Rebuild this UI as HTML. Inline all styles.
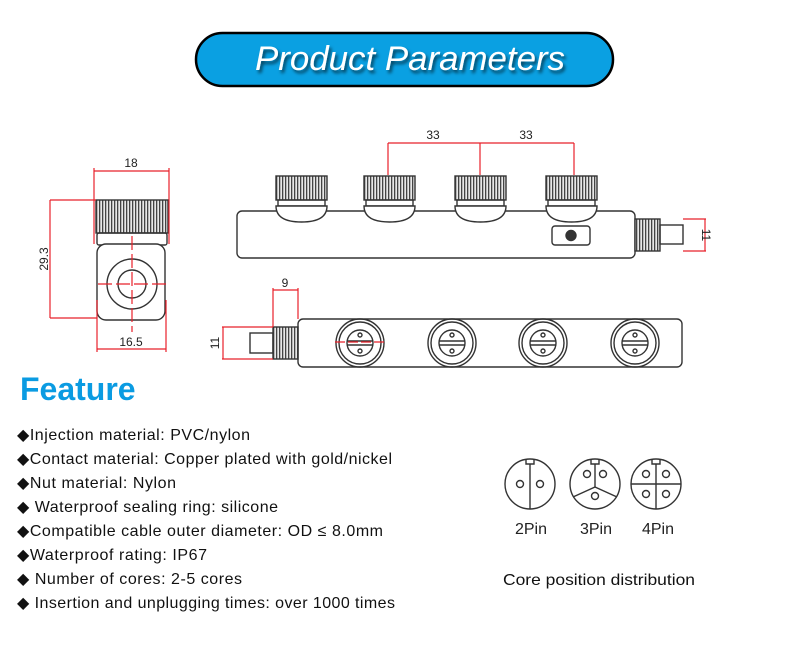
<!DOCTYPE html>
<html><head><meta charset="utf-8"><style>
html,body{margin:0;padding:0;background:#fff;}
svg{display:block;font-family:"Liberation Sans",Arial,sans-serif;}
</style></head><body>
<svg width="790" height="661" viewBox="0 0 790 661" xmlns="http://www.w3.org/2000/svg">
<defs>
<pattern id="kn" width="3" height="10" patternUnits="userSpaceOnUse">
<rect width="3" height="10" fill="#e8e8e8"/><rect width="1.3" height="10" fill="#444"/>
</pattern>
<filter id="sh" x="-5%" y="-20%" width="110%" height="150%"><feDropShadow dx="2" dy="3" stdDeviation="1.5" flood-color="#000" flood-opacity="0.6"/></filter>
</defs>
<rect width="790" height="661" fill="#fff"/>
<rect x="196" y="33" width="417" height="53" rx="26.5" fill="#0aa0e2" stroke="#000" stroke-width="2.5"/>
<text x="410" y="70" text-anchor="middle" font-size="34" font-style="italic" fill="#fff" filter="url(#sh)" textLength="310" lengthAdjust="spacingAndGlyphs">Product Parameters</text>

<g fill="none" stroke="#333" stroke-width="1.4">
<rect x="96" y="200" width="72" height="33" fill="url(#kn)" stroke="#333"/>
<rect x="97" y="233" width="70" height="12" rx="2"/>
<rect x="97" y="244" width="68" height="76" rx="9" fill="#fff"/>
<circle cx="132" cy="284" r="25"/>
<circle cx="132" cy="284" r="14"/>

<rect x="237" y="211" width="398" height="47" rx="5" fill="#fff"/>
<g id="cap">
<rect x="276" y="176" width="51" height="24" fill="url(#kn)"/>
<rect x="278" y="200" width="47" height="6"/>
<path d="M276 206 L327 206 Q327 222 301.5 222 Q276 222 276 206 Z" fill="#fff"/>
</g>
<use href="#cap" x="88"/>
<use href="#cap" x="179"/>
<use href="#cap" x="270"/>
<rect x="552" y="226" width="38" height="19" rx="3"/>
<circle cx="571" cy="235.5" r="5" fill="#333"/>
<rect x="635" y="219" width="25" height="32" fill="url(#kn)"/>
<rect x="660" y="225" width="23" height="19"/>

<rect x="298" y="319" width="384" height="48" rx="5" fill="#fff"/>
<g id="face">
<circle cx="360" cy="343" r="24"/>
<circle cx="360" cy="343" r="21"/>
<circle cx="360" cy="343" r="13"/>
<line x1="347" y1="341" x2="373" y2="341"/>
<line x1="347" y1="345" x2="373" y2="345"/>
<circle cx="360" cy="335" r="2"/>
<circle cx="360" cy="351" r="2"/>
</g>
<use href="#face" x="92"/>
<use href="#face" x="183"/>
<use href="#face" x="275"/>
<rect x="273" y="327" width="25" height="32" fill="url(#kn)"/>
<rect x="250" y="333" width="23" height="20"/>

<circle cx="530" cy="484" r="25"/>
<circle cx="595" cy="484" r="25"/>
<circle cx="656" cy="484" r="25"/>
<path d="M526 460 v4 h8 v-4"/><line x1="530" y1="464" x2="530" y2="509"/>
<circle cx="520" cy="484" r="3.5"/><circle cx="540" cy="484" r="3.5"/>
<path d="M591 460 v4 h8 v-4"/><line x1="595" y1="464" x2="595" y2="487"/>
<line x1="595" y1="487" x2="573" y2="497"/><line x1="595" y1="487" x2="617" y2="497"/>
<circle cx="587" cy="474" r="3.5"/><circle cx="603" cy="474" r="3.5"/><circle cx="595" cy="496" r="3.5"/>
<path d="M652 460 v4 h8 v-4"/><line x1="656" y1="464" x2="656" y2="509"/><line x1="631" y1="484" x2="681" y2="484"/>
<circle cx="646" cy="474" r="3.5"/><circle cx="666" cy="474" r="3.5"/><circle cx="646" cy="494" r="3.5"/><circle cx="666" cy="494" r="3.5"/>
</g>

<g stroke="#e8202a" stroke-width="1.2" fill="none">
<line x1="94" y1="171" x2="169" y2="171"/>
<line x1="94" y1="168" x2="94" y2="244"/><line x1="169" y1="168" x2="169" y2="244"/>
<line x1="50" y1="200" x2="96" y2="200"/><line x1="50" y1="318" x2="97" y2="318"/>
<line x1="50" y1="200" x2="50" y2="318"/>
<line x1="97" y1="300" x2="97" y2="352"/><line x1="166" y1="300" x2="166" y2="352"/>
<line x1="97" y1="349" x2="166" y2="349"/>
<line x1="132" y1="236" x2="132" y2="332" stroke-dasharray="14 4"/>
<line x1="98" y1="284" x2="166" y2="284" stroke-dasharray="14 4"/>
<line x1="388" y1="143" x2="574" y2="143"/>
<line x1="388" y1="143" x2="388" y2="175"/><line x1="480" y1="143" x2="480" y2="175"/><line x1="574" y1="143" x2="574" y2="175"/>
<line x1="683" y1="219" x2="706" y2="219"/><line x1="683" y1="251" x2="706" y2="251"/>
<line x1="705" y1="219" x2="705" y2="251"/>
<line x1="273" y1="290" x2="298" y2="290"/>
<line x1="273" y1="288" x2="273" y2="327"/><line x1="298" y1="288" x2="298" y2="319"/>
<line x1="222" y1="327" x2="273" y2="327"/><line x1="222" y1="359" x2="273" y2="359"/>
<line x1="223" y1="327" x2="223" y2="359"/>
<line x1="335" y1="342" x2="385" y2="342" stroke-dasharray="10 3"/>
</g>
<g font-size="12" fill="#222" text-anchor="middle">
<text x="131" y="167">18</text>
<text x="131" y="346">16.5</text>
<text x="433" y="139">33</text>
<text x="526" y="139">33</text>
<text x="285" y="287">9</text>
<text transform="translate(48,259) rotate(-90)">29.3</text>
<text transform="translate(702,235) rotate(90)">11</text>
<text transform="translate(219,343) rotate(-90)">11</text>
</g>

<text x="20" y="400" font-size="32" font-weight="bold" fill="#0a9be2">Feature</text>
<g font-size="16" fill="#111" lengthAdjust="spacingAndGlyphs">
<text x="17" y="440" textLength="233">◆Injection material: PVC/nylon</text>
<text x="17" y="464" textLength="375">◆Contact material: Copper plated with gold/nickel</text>
<text x="17" y="488" textLength="159">◆Nut material: Nylon</text>
<text x="17" y="512" textLength="261">◆ Waterproof sealing ring: silicone</text>
<text x="17" y="536" textLength="366">◆Compatible cable outer diameter: OD ≤ 8.0mm</text>
<text x="17" y="560" textLength="190">◆Waterproof rating: IP67</text>
<text x="17" y="584" textLength="225">◆ Number of cores: 2-5 cores</text>
<text x="17" y="608" textLength="378">◆ Insertion and unplugging times: over 1000 times</text>
</g>
<g font-size="16" fill="#222" text-anchor="middle">
<text x="531" y="534">2Pin</text>
<text x="596" y="534">3Pin</text>
<text x="658" y="534">4Pin</text>
</g>
<text x="503" y="585" font-size="16" fill="#111" textLength="192" lengthAdjust="spacingAndGlyphs">Core position distribution</text>
</svg>
</body></html>
